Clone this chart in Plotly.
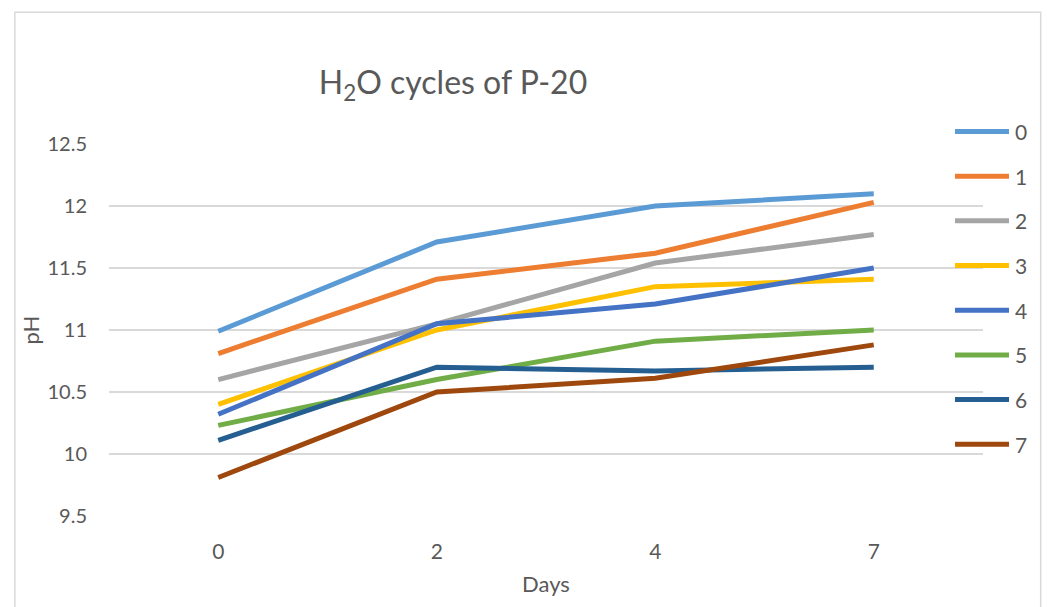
import plotly.graph_objects as go

days = ["0", "2", "4", "7"]
series_names = ["0", "1", "2", "3", "4", "5", "6", "7"]
ph_0 = [10.99, 11.71, 12.00, 12.10]
ph_1 = [10.81, 11.41, 11.62, 12.03]
ph_2 = [10.60, 11.05, 11.54, 11.77]
ph_3 = [10.40, 11.00, 11.35, 11.41]
ph_4 = [10.32, 11.05, 11.21, 11.50]
ph_5 = [10.23, 10.60, 10.91, 11.00]
ph_6 = [10.11, 10.70, 10.67, 10.70]
ph_7 = [9.81, 10.50, 10.61, 10.88]
all_series = [ph_0, ph_1, ph_2, ph_3, ph_4, ph_5, ph_6, ph_7]
colors = ["#5B9BD5", "#ED7D31", "#A5A5A5", "#FFC000", "#4472C4", "#70AD47", "#255E91", "#9E480E"]

W, H = 1047, 607
L, R, T, B = 108.5, 64, 143.5, 91.3
pw, ph = W - L - R, H - T - B

def px_to_paper_x(px):
    return (px - L) / pw

def px_to_paper_y(py):
    return (H - B - py) / ph

FONT = "Lato, 'Open Sans', sans-serif"
TXT = "#595959"

fig = go.Figure()
for name, vals, col in zip(series_names, all_series, colors):
    fig.add_trace(go.Scatter(x=days, y=vals, name=name, mode="lines",
                             line=dict(color=col, width=5),
                             showlegend=False))

shapes = []
annotations = []
# chart border
shapes.append(dict(type="rect", xref="paper", yref="paper",
                   x0=px_to_paper_x(14.3), x1=px_to_paper_x(1040.7),
                   y0=px_to_paper_y(640), y1=px_to_paper_y(11.7),
                   line=dict(color="#D9D9D9", width=1.5), fillcolor="rgba(0,0,0,0)", layer="below"))
# manual legend
for i, (name, col) in enumerate(zip(series_names, colors)):
    yc = 131 + i * 44.7
    shapes.append(dict(type="line", xref="paper", yref="paper",
                       x0=px_to_paper_x(955), x1=px_to_paper_x(1009),
                       y0=px_to_paper_y(yc), y1=px_to_paper_y(yc),
                       line=dict(color=col, width=5)))
    annotations.append(dict(xref="paper", yref="paper", x=px_to_paper_x(1013), y=px_to_paper_y(yc),
                            text=name, showarrow=False, xanchor="left", yanchor="middle",
                            font=dict(family=FONT, size=21, color=TXT)))

fig.update_layout(
    width=W, height=H,
    margin=dict(l=L, r=R, t=T, b=B, pad=0),
    paper_bgcolor="white", plot_bgcolor="white",
    font=dict(family=FONT, color=TXT),
    title=dict(text="H<sub>2</sub>O cycles of P-20", xref="container", yref="container",
               x=453 / W, y=1 - 83 / H, xanchor="center", yanchor="middle",
               font=dict(family=FONT, size=32, color=TXT)),
    xaxis=dict(type="category", range=[-0.5, 3.5], showgrid=False, zeroline=False, showline=False,
               tickfont=dict(family=FONT, size=21, color=TXT), ticks="", ticklabelstandoff=21,
               title=dict(text="Days", font=dict(family=FONT, size=22, color=TXT), standoff=14)),
    yaxis=dict(range=[9.499, 12.501], tickvals=[9.5, 10, 10.5, 11, 11.5, 12, 12.5],
               ticktext=["9.5", "10", "10.5", "11", "11.5", "12", "12.5"],
               showgrid=True, gridcolor="#D9D9D9", gridwidth=1.5, zeroline=False, showline=False,
               tickfont=dict(family=FONT, size=20, color=TXT), ticks="", ticklabelstandoff=21,
               title=dict(text="pH", font=dict(family=FONT, size=22, color=TXT), standoff=1)),
    shapes=shapes, annotations=annotations,
)

fig.write_html("out.html")
